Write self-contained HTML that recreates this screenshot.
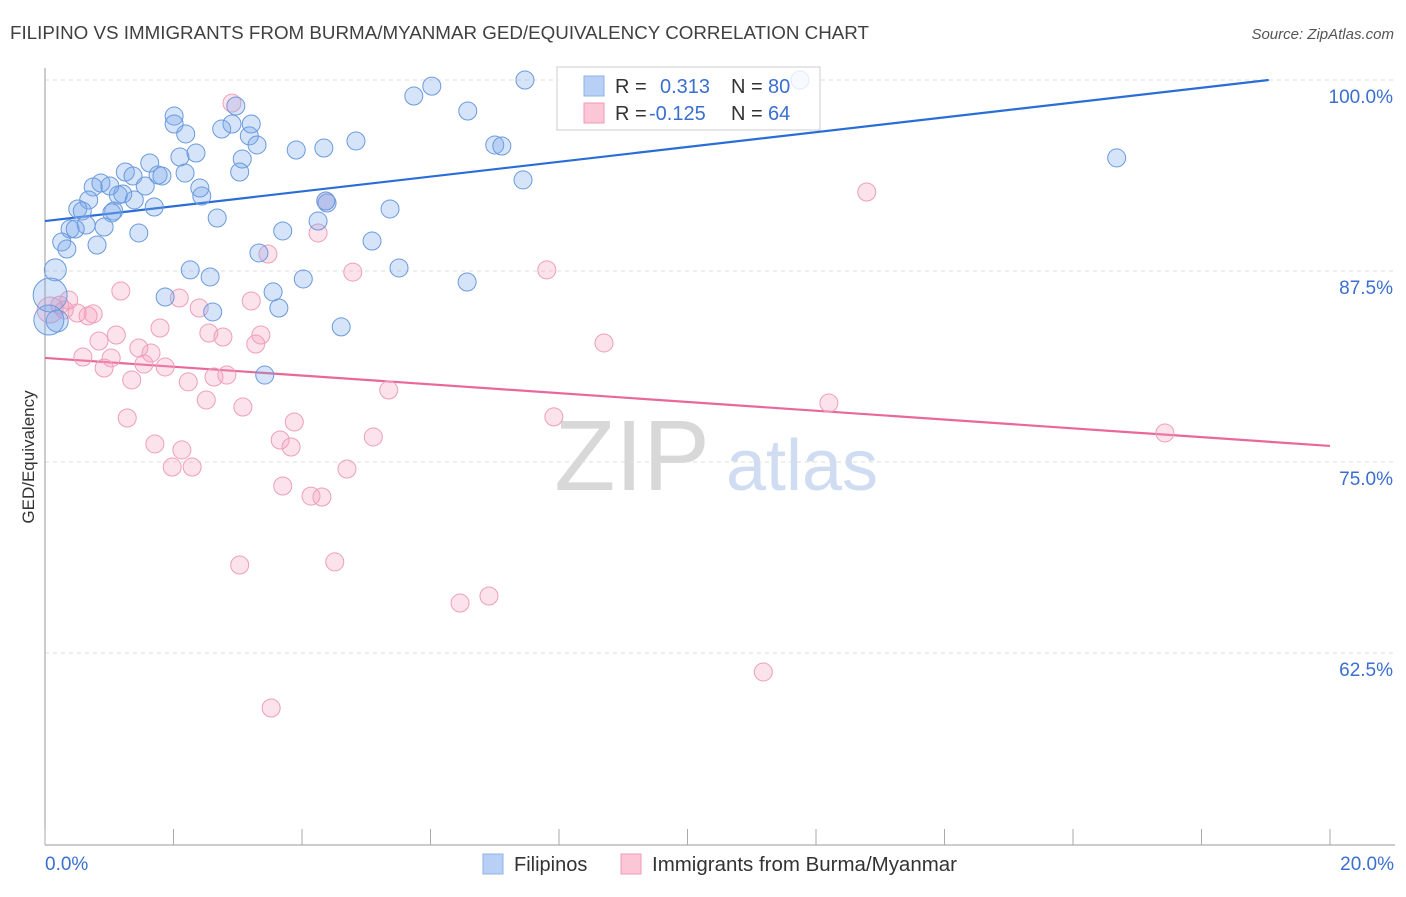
<!DOCTYPE html>
<html><head><meta charset="utf-8"><style>
body{margin:0;background:#fff;font-family:"Liberation Sans",sans-serif}
svg text{font-family:"Liberation Sans",sans-serif}
</style></head><body>
<svg id="chart" width="1406" height="892" viewBox="0 0 1406 892" xmlns="http://www.w3.org/2000/svg">
<text x="10" y="39" font-size="18" fill="#404040" textLength="859" lengthAdjust="spacingAndGlyphs">FILIPINO VS IMMIGRANTS FROM BURMA/MYANMAR GED/EQUIVALENCY CORRELATION CHART</text>
<text x="1394" y="39" font-size="15" fill="#555" text-anchor="end" font-style="italic">Source: ZipAtlas.com</text>
<g>
<text x="632" y="490" font-size="100" fill="#d8d8d8" text-anchor="middle" font-family="Liberation Serif">ZIP</text>
<text x="802" y="490" font-size="72" fill="#cfdcf2" text-anchor="middle">atlas</text>
</g>
<g id="grid"></g>
<g id="axes"></g>
<g id="trend"></g>
<g id="pts"></g>
<g>
<rect x="557" y="67" width="263" height="63" fill="rgba(255,255,255,0.8)" stroke="#ccc"/>
<rect x="584" y="76" width="20" height="20" fill="#b8d0f5" stroke="#8fb2e8"/>
<rect x="584" y="103" width="20" height="20" fill="#fbc6d5" stroke="#f09ab5"/>
<text x="615" y="93" font-size="20" fill="#333">R =</text>
<text x="660" y="93" font-size="20" fill="#3a6fd0">0.313</text>
<text x="731" y="93" font-size="20" fill="#333">N =</text>
<text x="768" y="93" font-size="20" fill="#3a6fd0">80</text>
<text x="615" y="120" font-size="20" fill="#333">R =</text>
<text x="649" y="120" font-size="20" fill="#3a6fd0">-0.125</text>
<text x="731" y="120" font-size="20" fill="#333">N =</text>
<text x="768" y="120" font-size="20" fill="#3a6fd0">64</text>
</g>
<g>
<rect x="483" y="854" width="20" height="20" fill="#b8d0f5" stroke="#8fb2e8"/>
<text x="514" y="871" font-size="20" fill="#333">Filipinos</text>
<rect x="621" y="854" width="20" height="20" fill="#fbc6d5" stroke="#f09ab5"/>
<text x="652" y="871" font-size="20" fill="#333" textLength="305" lengthAdjust="spacingAndGlyphs">Immigrants from Burma/Myanmar</text>
</g>
<text transform="translate(34,457) rotate(-90)" font-size="17" fill="#333" text-anchor="middle">GED/Equivalency</text>
</svg>
<script>
const yTicks=[100,87.5,75,62.5];
const yTickLabels=["100.0%","87.5%","75.0%","62.5%"];
const xTickValues=[0,2,4,6,8,10,12,14,16,18,20];
const blueX=[7.47,11.75,6.02,5.74,2.97,6.58,2.01,2.01,2.91,2.75,3.21,2.19,3.18,3.30,3.91,4.34,4.84,7.00,7.11,2.35,2.10,1.63,3.07,1.25,1.76,1.82,2.18,3.03,1.37,1.56,0.87,0.75,1.01,1.21,1.14,0.68,1.39,2.44,2.41,7.44,16.68,4.39,1.70,5.37,0.51,0.58,1.07,1.04,2.68,4.25,0.64,0.39,0.47,0.92,1.46,3.70,0.26,0.81,0.34,5.09,3.33,0.16,2.26,2.57,4.02,5.51,6.57,1.87,3.55,0.08,3.64,2.61,4.61,0.19,0.06,3.42,4.37];
const blueY=[100,100,99.6,98.95,98.3,97.97,97.64,97.12,97.12,96.79,97.12,96.47,96.34,95.75,95.42,95.55,96.01,95.75,95.68,95.22,94.96,94.57,94.83,93.98,93.78,93.72,93.91,93.98,93.72,93.06,93.26,93.0,93.06,92.54,92.47,92.15,92.15,92.41,92.93,93.46,94.9,91.95,91.69,91.56,91.56,91.43,91.43,91.3,90.97,90.77,90.51,90.25,90.25,90.38,89.99,90.12,89.4,89.2,88.94,89.46,88.68,87.57,87.57,87.11,86.98,87.7,86.78,85.8,86.13,85.93,85.08,84.82,83.84,84.23,84.29,80.69,92.08];
const blueR=[9,9,9,9,9,9,9,9,9,9,9,9,9,9,9,9,9,9,9,9,9,9,9,9,9,9,9,9,9,9,9,9,9,9,9,9,9,9,9,9,9,9,9,9,9,9,9,9,9,9,9,9,9,9,9,9,9,9,9,9,9,11,9,9,9,9,9,9,9,17,9,9,9,11,15,9,9];
const pinkX=[2.91,12.79,4.37,4.25,3.47,4.79,7.81,1.18,2.09,2.40,3.21,0.37,0.23,0.30,0.50,0.75,0.67,0.08,1.79,1.11,2.55,2.77,3.36,8.70,0.84,1.46,3.28,1.65,0.59,1.03,1.87,1.54,0.92,2.63,2.83,2.23,1.35,3.08,2.51,5.35,7.92,12.2,1.28,3.88,17.43,5.11,3.66,3.83,1.71,2.13,1.98,2.29,4.70,3.70,4.14,4.31,3.03,4.51,6.46,6.91,11.18,3.52];
const pinkY=[98.49,92.67,92.08,89.99,88.61,87.43,87.57,86.19,85.73,85.08,85.54,85.6,85.27,84.95,84.75,84.69,84.56,84.95,83.77,83.31,83.44,83.18,83.31,82.79,82.92,82.46,82.72,82.13,81.87,81.81,81.22,81.41,81.15,80.56,80.69,80.24,80.37,78.6,79.06,79.71,77.95,78.86,77.88,77.62,76.9,76.64,76.44,75.98,76.18,75.79,74.67,74.67,74.54,73.43,72.77,72.71,68.26,68.46,65.77,66.23,61.26,58.9];
const pinkR=[9,9,9,9,9,9,9,9,9,9,9,9,9,9,9,9,9,13,9,9,9,9,9,9,9,9,9,9,9,9,9,9,9,9,9,9,9,9,9,9,9,9,9,9,9,9,9,9,9,9,9,9,9,9,9,9,9,9,9,9,9,9];
const blueTrend=[90.77,0.4846];
const pinkTrend=[81.81,-0.288];

const NS="http://www.w3.org/2000/svg";
const X0=45,X1=1330,YTOP=80,PXV=191/12.5;
const sx=v=>X0+(X1-X0)*v/20;
const sy=v=>YTOP+(100-v)*PXV;
function mk(tag,attrs,parent){const e=document.createElementNS(NS,tag);for(const k in attrs)e.setAttribute(k,attrs[k]);parent.appendChild(e);return e;}
const grid=document.getElementById('grid'),axes=document.getElementById('axes'),trend=document.getElementById('trend'),pts=document.getElementById('pts');
yTicks.forEach((t,i)=>{
 const l=mk('line',{x1:X0,x2:1395,y1:sy(t),y2:sy(t),stroke:'#ddd','stroke-dasharray':'4,4'},grid);
 
 
 const tx=mk('text',{x:1393,y:sy(t)+23,'font-size':19,fill:'#3a6fd0','text-anchor':'end'},axes);
 tx.textContent=yTickLabels[i];
 
 
});
const ya=mk('line',{x1:X0,x2:X0,y1:68,y2:845,stroke:'#999'},axes);


const xa=mk('line',{x1:X0,x2:1395,y1:845,y2:845,stroke:'#999'},axes);


xTickValues.forEach(v=>{
 const t=mk('line',{x1:sx(v),x2:sx(v),y1:829,y2:845,stroke:'#aaa'},axes);
 
 
});
[[0,'0.0%','start',45],[20,'20.0%','end',1394]].forEach(a=>{
 const t=mk('text',{x:a[3],y:870,'font-size':19,fill:'#3a6fd0','text-anchor':a[2]},axes);
 t.textContent=a[1];
 
 
});
function drawPts(xs,ys,rs,fill,stroke,name){
 xs.forEach((x,i)=>{
  const c=mk('circle',{cx:sx(x),cy:sy(ys[i]),r:rs[i],fill:fill,stroke:stroke,'stroke-width':1},pts);
  
  
 });
}
drawPts(pinkX,pinkY,pinkR,'rgba(246,160,188,0.3)','#ee9fb8','burma-point');
drawPts(blueX,blueY,blueR,'rgba(120,165,235,0.3)','#6a9ade','filipino-point');
let bxEnd=Math.min(20,(100-blueTrend[0])/blueTrend[1]);
const bl=mk('line',{x1:sx(0),y1:sy(blueTrend[0]),x2:sx(bxEnd),y2:sy(blueTrend[0]+blueTrend[1]*bxEnd),stroke:'#2a6dd6','stroke-width':2.2},trend);


const pl=mk('line',{x1:sx(0),y1:sy(pinkTrend[0]),x2:sx(20),y2:sy(pinkTrend[0]+pinkTrend[1]*20),stroke:'#e8689a','stroke-width':2.2},trend);


</script>
</body></html>
